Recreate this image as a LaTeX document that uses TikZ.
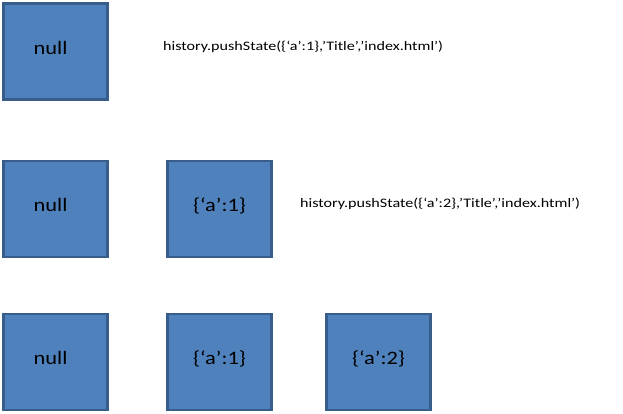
\documentclass[tikz,border=0pt]{standalone}
\usepackage{fontspec}
\setmainfont{Carlito}
\newfontfamily\boxfont[FakeStretch=1.18]{Carlito}
\newfontfamily\callfont[FakeStretch=1.24]{Carlito}
\definecolor{boxfill}{HTML}{4F81BD}
\definecolor{boxline}{HTML}{385D8A}
\tikzset{
  statebox/.style={draw=boxline, fill=boxfill, line width=2.2pt, minimum width=104pt, minimum height=96pt, inner sep=0pt, text height=13.5pt, text depth=8pt, font=\boxfont\fontsize{19}{22}\selectfont},
  calltext/.style={inner sep=0pt, font=\callfont\fontsize{13}{15}\selectfont}
}
\begin{document}
\begin{tikzpicture}[x=1pt, y=-1pt]
	\useasboundingbox (0,0) rectangle (623,414);
	\node[statebox] (nullA) at (55.5,51.5) {null\hspace*{10pt}};
	\node[calltext, anchor=west] (pushA) at (163,47) {history.pushState(\{‘a’:1\},’Title’,’index.html’)};
	\node[statebox] (nullB) at (55.5,209) {null\hspace*{10pt}};
	\node[statebox] (oneB) at (219.5,209) {\{‘a’:1\}};
	\node[calltext, anchor=west] (pushB) at (300,204) {history.pushState(\{‘a’:2\},’Title’,’index.html’)};
	\node[statebox] (nullC) at (55.5,362) {null\hspace*{10pt}};
	\node[statebox] (oneC) at (219.5,362) {\{‘a’:1\}};
	\node[statebox] (twoC) at (378.5,362) {\{‘a’:2\}};
\end{tikzpicture}
\end{document}
